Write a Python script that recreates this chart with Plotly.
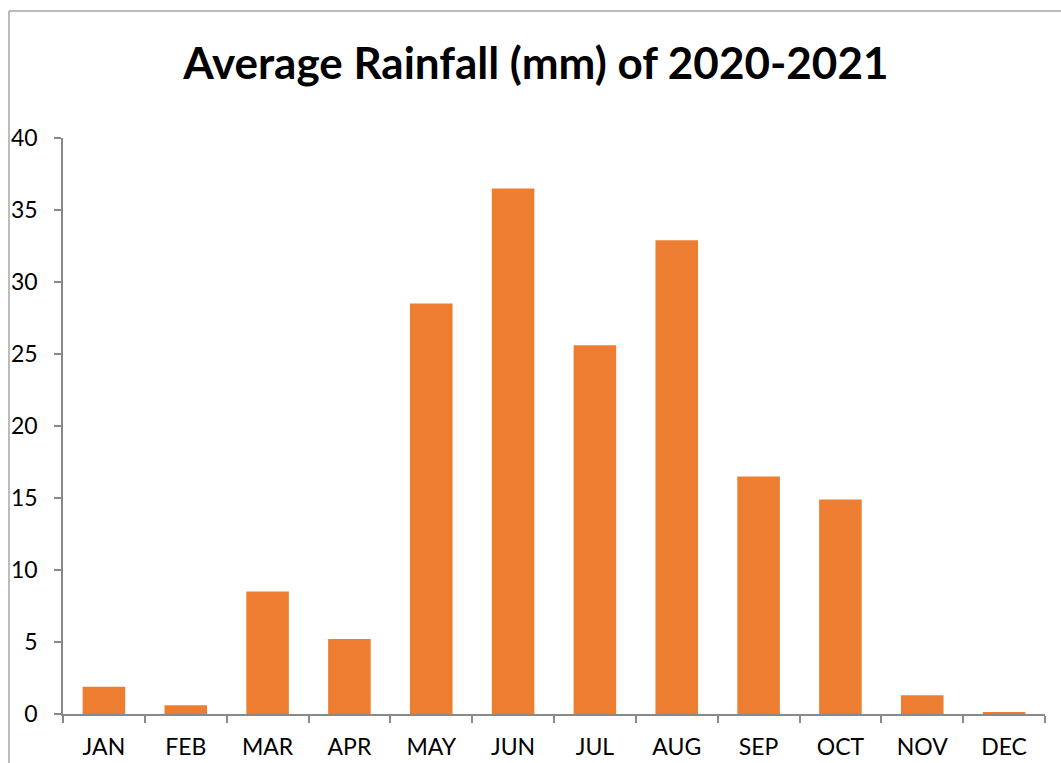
import plotly.graph_objects as go

months = ["JAN", "FEB", "MAR", "APR", "MAY", "JUN", "JUL", "AUG", "SEP", "OCT", "NOV", "DEC"]
rainfall = [1.9, 0.6, 8.5, 5.2, 28.5, 36.5, 25.6, 32.9, 16.5, 14.9, 1.3, 0.07]
y_ticks = [0, 5, 10, 15, 20, 25, 30, 35, 40]

FONT = "Lato"
AXIS_GRAY = "#898989"

fig = go.Figure(
    go.Bar(x=months, y=rainfall, marker=dict(color="#ED7D31", line=dict(width=0)), width=0.52)
)

fig.update_layout(
    width=1061,
    height=763,
    margin=dict(l=63, r=16, t=138, b=49),
    paper_bgcolor="white",
    plot_bgcolor="white",
    showlegend=False,
    font=dict(family=FONT, size=23, color="black"),
    title=dict(
        text="<b>Average Rainfall (mm) of 2020-2021</b>",
        x=0.505, xanchor="center", y=0.917, yanchor="middle",
        font=dict(family=FONT, size=44, color="black"),
    ),
)

fig.update_xaxes(
    automargin=False,
    showline=True, linecolor=AXIS_GRAY, linewidth=1.5,
    ticks="outside", tickson="boundaries", ticklen=7, tickcolor=AXIS_GRAY, tickwidth=1.5,
    showgrid=False, tickfont=dict(family=FONT, size=23, color="black"),
    ticklabelstandoff=12,
)
fig.update_yaxes(
    automargin=False,
    range=[0, 40], tickvals=y_ticks, showline=True, linecolor=AXIS_GRAY, linewidth=1.5,
    ticks="outside", ticklen=7, tickcolor=AXIS_GRAY, tickwidth=1.5,
    showgrid=False, zeroline=False, tickfont=dict(family=FONT, size=23, color="black"),
    ticklabelstandoff=12,
)

# outer chart border (only left and top edges visible)
fig.add_shape(type="line", xref="paper", yref="paper", x0=-0.055, x1=-0.055, y0=-0.1, y1=1.2205,
              line=dict(color="#a6a6a6", width=1.5))
fig.add_shape(type="line", xref="paper", yref="paper", x0=-0.055, x1=1.1, y0=1.2205, y1=1.2205,
              line=dict(color="#a6a6a6", width=1.5))

fig.write_html("out.html")
